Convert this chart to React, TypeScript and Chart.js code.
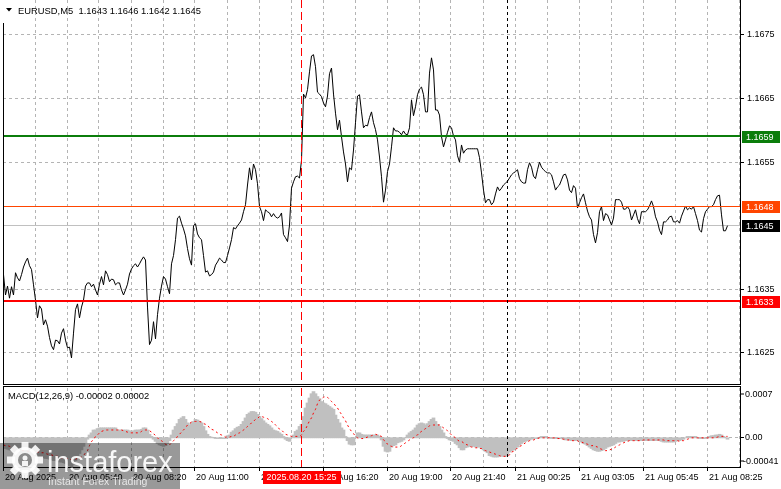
import React, { useEffect, useRef } from "react";
import { Chart, registerables } from "chart.js";

Chart.register(...registerables);

// ---------------- data ----------------
const titleText = "EURUSD,M5  1.1643 1.1646 1.1642 1.1645";
const macdTitleText = "MACD(12,26,9) -0.00002 0.00002";

const closes = [
  1.16373,1.16341,1.16355,1.16336,1.16354,1.16341,1.16376,1.16368,1.16363,1.16373,
  1.16385,1.16393,1.16399,1.16387,1.16381,1.16357,1.16333,1.16305,1.16324,1.16319,
  1.16294,1.16302,1.16292,1.16274,1.16261,1.16255,1.16270,1.16269,1.16264,1.16281,
  1.16288,1.16270,1.16258,1.16259,1.16242,1.16281,1.16318,1.16327,1.16305,1.16322,
  1.16333,1.16355,1.16360,1.16360,1.16354,1.16358,1.16349,1.16341,1.16358,1.16370,
  1.16357,1.16379,1.16373,1.16362,1.16366,1.16365,1.16357,1.16360,1.16360,1.16349,
  1.16341,1.16349,1.16358,1.16374,1.16382,1.16387,1.16390,1.16385,1.16390,1.16396,
  1.16401,1.16396,1.16322,1.16263,1.16270,1.16299,1.16272,1.16310,1.16336,1.16355,
  1.16370,1.16366,1.16354,1.16343,1.16390,1.16403,1.16428,1.16462,1.16465,1.16454,
  1.16445,1.16434,1.16414,1.16398,1.16388,1.16450,1.16453,1.16437,1.16431,1.16428,
  1.16403,1.16377,1.16379,1.16371,1.16373,1.16377,1.16388,1.16393,1.16399,1.16396,
  1.16392,1.16392,1.16403,1.16415,1.16428,1.16447,1.16445,1.16450,1.16454,1.16459,
  1.16472,1.16483,1.16514,1.16541,1.16522,1.16547,1.16538,1.16516,1.16480,1.16472,
  1.16458,1.16475,1.16472,1.16470,1.16464,1.16469,1.16464,1.16462,1.16464,1.16470,
  1.16436,1.16431,1.16425,1.16451,1.16509,1.16519,1.16527,1.16528,1.16525,1.16553,
  1.16657,1.16651,1.16664,1.16692,1.16717,1.16719,1.16700,1.16660,1.16657,1.16653,
  1.16643,1.16637,1.16654,1.16689,1.16698,1.16657,1.16627,1.16601,1.16616,1.16590,
  1.16566,1.16547,1.16519,1.16541,1.16538,1.16569,1.16612,1.16654,1.16656,1.16629,
  1.16604,1.16608,1.16607,1.16620,1.16629,1.16612,1.16601,1.16585,1.16558,1.16527,
  1.16487,1.16506,1.16535,1.16547,1.16574,1.16604,1.16599,1.16599,1.16597,1.16593,
  1.16599,1.16594,1.16593,1.16604,1.16648,1.16623,1.16637,1.16656,1.16665,1.16668,
  1.16656,1.16629,1.16629,1.16690,1.16714,1.16695,1.16632,1.16632,1.16624,1.16590,
  1.16574,1.16585,1.16597,1.16607,1.16604,1.16591,1.16585,1.16560,1.16550,1.16577,
  1.16564,1.16569,1.16571,1.16571,1.16571,1.16571,1.16571,1.16571,1.16557,1.16533,
  1.16506,1.16486,1.16491,1.16491,1.16483,1.16487,1.16500,1.16511,1.16505,1.16509,
  1.16514,1.16517,1.16520,1.16525,1.16530,1.16533,1.16535,1.16538,1.16524,1.16519,
  1.16517,1.16517,1.16538,1.16549,1.16542,1.16528,1.16524,1.16538,1.16550,1.16542,
  1.16538,1.16535,1.16533,1.16533,1.16530,1.16519,1.16506,1.16511,1.16514,1.16522,
  1.16530,1.16531,1.16522,1.16506,1.16502,1.16513,1.16509,1.16478,1.16486,1.16494,
  1.16500,1.16486,1.16473,1.16464,1.16459,1.16436,1.16423,1.16439,1.16472,1.16480,
  1.16458,1.16469,1.16467,1.16459,1.16451,1.16462,1.16491,1.16491,1.16491,1.16487,
  1.16476,1.16476,1.16480,1.16475,1.16459,1.16467,1.16475,1.16461,1.16453,1.16472,
  1.16472,1.16472,1.16475,1.16481,1.16489,1.16480,1.16464,1.16456,1.16443,1.16436,
  1.16456,1.16456,1.16459,1.16464,1.16465,1.16456,1.16456,1.16458,1.16454,1.16465,
  1.16473,1.16481,1.16475,1.16478,1.16476,1.16480,1.16469,1.16458,1.16443,1.16440,
  1.16461,1.16472,1.16476,1.16480,1.16480,1.16483,1.16491,1.16497,1.16498,1.16467,
  1.16442,1.16442,1.16450,
];

const macdHist = [
  -14e-5,-15e-5,-16e-5,-17e-5,-18e-5,-19e-5,-19e-5,-20e-5,-20e-5,-21e-5,
  -21e-5,-22e-5,-22e-5,-23e-5,-23e-5,-24e-5,-25e-5,-26e-5,-27e-5,-27e-5,
  -28e-5,-29e-5,-29e-5,-30e-5,-31e-5,-32e-5,-32e-5,-33e-5,-34e-5,-34e-5,
  -35e-5,-36e-5,-38e-5,-39e-5,-41e-5,-37e-5,-32e-5,-27e-5,-22e-5,-17e-5,
  -12e-5,-7e-5,-2e-5,4e-5,7e-5,11e-5,11e-5,13e-5,14e-5,14e-5,
  14e-5,14e-5,14e-5,14e-5,14e-5,14e-5,14e-5,11e-5,11e-5,11e-5,
  11e-5,11e-5,11e-5,10e-5,9e-5,10e-5,11e-5,11e-5,11e-5,12e-5,
  14e-5,14e-5,11e-5,5e-5,2e-5,-2e-5,-5e-5,-8e-5,-10e-5,-11e-5,
  -12e-5,-11e-5,-8e-5,-4e-5,4e-5,11e-5,16e-5,20e-5,26e-5,28e-5,
  30e-5,26e-5,21e-5,18e-5,21e-5,23e-5,26e-5,25e-5,23e-5,21e-5,
  16e-5,10e-5,5e-5,2e-5,1e-5,0,-1e-5,-1e-5,-1e-5,-1e-5,
  -1e-5,-1e-5,3e-5,4e-5,8e-5,10e-5,13e-5,15e-5,16e-5,19e-5,
  23e-5,28e-5,33e-5,35e-5,37e-5,37e-5,36e-5,33e-5,30e-5,27e-5,
  24e-5,21e-5,19e-5,17e-5,14e-5,11e-5,10e-5,9e-5,7e-5,5e-5,
  2e-5,-2e-5,-4e-5,-5e-5,0,4e-5,9e-5,11e-5,16e-5,19e-5,
  30e-5,42e-5,49e-5,56e-5,62e-5,65e-5,62e-5,58e-5,55e-5,51e-5,
  49e-5,48e-5,46e-5,44e-5,42e-5,40e-5,32e-5,26e-5,21e-5,14e-5,
  11e-5,2e-5,-4e-5,-9e-5,-10e-5,-10e-5,0,7e-5,7e-5,5e-5,
  4e-5,4e-5,4e-5,4e-5,4e-5,4e-5,4e-5,4e-5,2e-5,-3e-5,
  -12e-5,-19e-5,-20e-5,-19e-5,-13e-5,-11e-5,-10e-5,-7e-5,-6e-5,-5e-5,
  -3e-5,0,4e-5,7e-5,9e-5,11e-5,14e-5,18e-5,20e-5,21e-5,
  20e-5,18e-5,20e-5,23e-5,26e-5,28e-5,23e-5,19e-5,16e-5,11e-5,
  7e-5,2e-5,-1e-5,-3e-5,-4e-5,-5e-5,-8e-5,-10e-5,-14e-5,-17e-5,
  -17e-5,-14e-5,-13e-5,-12e-5,-12e-5,-12e-5,-13e-5,-13e-5,-13e-5,-15e-5,
  -17e-5,-19e-5,-21e-5,-25e-5,-26e-5,-27e-5,-27e-5,-27e-5,-26e-5,-26e-5,
  -26e-5,-26e-5,-24e-5,-20e-5,-18e-5,-17e-5,-15e-5,-13e-5,-10e-5,-8e-5,
  -6e-5,-5e-5,-4e-5,-3e-5,-2e-5,-1e-5,-1e-5,-1e-5,0,2e-5,
  2e-5,2e-5,0,0,-1e-5,-1e-5,-1e-5,-1e-5,-1e-5,-1e-5,
  -2e-5,-3e-5,-3e-5,-3e-5,-4e-5,-4e-5,-4e-5,-4e-5,-5e-5,-6e-5,
  -8e-5,-9e-5,-11e-5,-13e-5,-15e-5,-17e-5,-18e-5,-19e-5,-19e-5,-18e-5,
  -17e-5,-15e-5,-13e-5,-12e-5,-11e-5,-10e-5,-8e-5,-6e-5,-6e-5,-5e-5,
  -5e-5,-4e-5,-4e-5,-4e-5,-4e-5,-4e-5,-4e-5,-4e-5,-4e-5,-4e-5,
  -4e-5,-4e-5,-4e-5,-4e-5,-4e-5,-4e-5,-4e-5,-4e-5,-4e-5,-5e-5,
  -6e-5,-6e-5,-6e-5,-6e-5,-6e-5,-6e-5,-5e-5,-4e-5,-4e-5,-3e-5,
  -2e-5,0,2e-5,2e-5,2e-5,2e-5,2e-5,0,-1e-5,-1e-5,
  -1e-5,-1e-5,0,2e-5,3e-5,3e-5,4e-5,4e-5,5e-5,4e-5,
  2e-5,0,-2e-5,
];

const macdSignal = [
  -10e-5,-11e-5,-11e-5,-12e-5,-13e-5,-16e-5,-16e-5,-17e-5,-17e-5,-18e-5,
  -18e-5,-18e-5,-19e-5,-19e-5,-19e-5,-20e-5,-20e-5,-20e-5,-20e-5,-21e-5,
  -21e-5,-22e-5,-23e-5,-23e-5,-24e-5,-25e-5,-26e-5,-26e-5,-27e-5,-28e-5,
  -28e-5,-29e-5,-29e-5,-30e-5,-31e-5,-31e-5,-30e-5,-29e-5,-28e-5,-27e-5,
  -25e-5,-21e-5,-18e-5,-11e-5,-5e-5,-3e-5,2e-5,4e-5,7e-5,9e-5,
  10e-5,11e-5,11e-5,11e-5,11e-5,11e-5,11e-5,11e-5,11e-5,11e-5,
  10e-5,9e-5,8e-5,7e-5,7e-5,7e-5,7e-5,7e-5,7e-5,9e-5,
  11e-5,11e-5,11e-5,10e-5,8e-5,6e-5,3e-5,0,-3e-5,-4e-5,
  -7e-5,-9e-5,-10e-5,-10e-5,-7e-5,-4e-5,-2e-5,2e-5,5e-5,8e-5,
  11e-5,14e-5,18e-5,20e-5,22e-5,23e-5,23e-5,23e-5,23e-5,22e-5,
  20e-5,19e-5,18e-5,14e-5,12e-5,11e-5,9e-5,7e-5,5e-5,4e-5,
  3e-5,1e-5,1e-5,1e-5,2e-5,2e-5,4e-5,6e-5,7e-5,9e-5,
  11e-5,13e-5,16e-5,18e-5,21e-5,23e-5,26e-5,27e-5,30e-5,30e-5,
  29e-5,28e-5,27e-5,25e-5,23e-5,21e-5,18e-5,16e-5,12e-5,11e-5,
  8e-5,5e-5,4e-5,3e-5,2e-5,2e-5,2e-5,2e-5,2e-5,4e-5,
  9e-5,12e-5,18e-5,24e-5,28e-5,35e-5,40e-5,48e-5,53e-5,55e-5,
  57e-5,58e-5,57e-5,54e-5,51e-5,49e-5,45e-5,42e-5,37e-5,33e-5,
  28e-5,24e-5,18e-5,13e-5,9e-5,6e-5,2e-5,0,-1e-5,-1e-5,
  -1e-5,0,1e-5,2e-5,3e-5,4e-5,5e-5,4e-5,3e-5,2e-5,
  -3e-5,-5e-5,-9e-5,-11e-5,-12e-5,-13e-5,-13e-5,-13e-5,-13e-5,-11e-5,
  -9e-5,-7e-5,-5e-5,-3e-5,-1e-5,0,3e-5,4e-5,7e-5,9e-5,
  11e-5,13e-5,14e-5,17e-5,18e-5,18e-5,18e-5,18e-5,18e-5,16e-5,
  14e-5,12e-5,10e-5,7e-5,4e-5,2e-5,0,-3e-5,-5e-5,-5e-5,
  -7e-5,-9e-5,-10e-5,-12e-5,-13e-5,-13e-5,-14e-5,-14e-5,-15e-5,-15e-5,
  -17e-5,-18e-5,-19e-5,-20e-5,-21e-5,-22e-5,-23e-5,-24e-5,-25e-5,-26e-5,
  -26e-5,-26e-5,-26e-5,-24e-5,-20e-5,-19e-5,-17e-5,-14e-5,-12e-5,-11e-5,
  -9e-5,-7e-5,-6e-5,-4e-5,-4e-5,-3e-5,-2e-5,-1e-5,0,0,
  0,0,0,0,0,0,0,-1e-5,-1e-5,-1e-5,
  -2e-5,-2e-5,-3e-5,-3e-5,-4e-5,-4e-5,-4e-5,-4e-5,-6e-5,-6e-5,
  -7e-5,-8e-5,-9e-5,-10e-5,-11e-5,-11e-5,-12e-5,-13e-5,-15e-5,-16e-5,
  -17e-5,-18e-5,-18e-5,-17e-5,-16e-5,-15e-5,-13e-5,-11e-5,-10e-5,-8e-5,
  -7e-5,-6e-5,-5e-5,-4e-5,-4e-5,-4e-5,-4e-5,-4e-5,-4e-5,-4e-5,
  -3e-5,-3e-5,-3e-5,-3e-5,-3e-5,-3e-5,-3e-5,-3e-5,-3e-5,-3e-5,
  -3e-5,-4e-5,-4e-5,-4e-5,-4e-5,-4e-5,-4e-5,-4e-5,-5e-5,-4e-5,
  -4e-5,-3e-5,-2e-5,-1e-5,0,0,0,0,0,0,
  0,0,0,0,0,0,0,1e-5,2e-5,2e-5,
  2e-5,2e-5,2e-5,
];

const priceMin = 1.16201;
const priceMax = 1.16805;
const priceGrid = [1.1625, 1.1635, 1.1645, 1.1655, 1.1665, 1.1675];
const priceTickValues = [1.1625, 1.1635, 1.1655, 1.1665, 1.1675];
const priceTickLabels = ["1.1625", "1.1635", "1.1655", "1.1665", "1.1675"];
const levelValues = [1.1659, 1.1648, 1.1633];
const levelLabels = ["1.1659", "1.1648", "1.1633"];
const lastClose = 1.1645;
const lastCloseLabel = "1.1645";

const macdMin = -0.00041;
const macdMax = 0.0007;
const macdTickValues = [0.0007, 0, -0.00041];
const macdTickLabels = ["0.0007", "0.00", "-0.00041"];

const timeLabelBars = [0, 32, 64, 96, 128, 160, 192, 224, 256, 288, 320, 352];
const timeLabels = [
  "20 Aug 2025", "20 Aug 05:40", "20 Aug 08:20", "20 Aug 11:00", "20 Aug 13:40", "20 Aug 16:20",
  "20 Aug 19:00", "20 Aug 21:40", "21 Aug 00:25", "21 Aug 03:05", "21 Aug 05:45", "21 Aug 08:25",
];
const crosshairBar = 149;
const crosshairLabel = "2025.08.20 15:25";
const markerBar = 252;
const gridEveryBars = 16;
const barMin = -0.25;
const barMax = 368.25;

// ---------------- styles ----------------
const AXIS_FONT = '9px "Liberation Sans", Arial, sans-serif';
const TITLE_FONT = '9.4px "Liberation Sans", Arial, sans-serif';
const GRID_COLOR = "#b4b4b4";
const LEVEL_COLORS = ["#0b7d0b", "#ff4500", "#ff0000"];
const LEVEL_WIDTHS = [2, 1, 2];

function vline(ctx: any, x: number, y0: number, y1: number) {
  ctx.beginPath();
  ctx.moveTo(x, y0);
  ctx.lineTo(x, y1);
  ctx.stroke();
}
function hline(ctx: any, y: number, x0: number, x1: number) {
  ctx.beginPath();
  ctx.moveTo(x0, y);
  ctx.lineTo(x1, y);
  ctx.stroke();
}
const colX = (xs: any, b: number) => Math.round(xs.getPixelForValue(b)) - 0.5;

const mainPlugin = {
  id: "mtMain",
  beforeDatasetsDraw(chart: any) {
    const { ctx, chartArea: a } = chart;
    const xs = chart.scales.x;
    const ys = chart.scales.y;
    ctx.save();
    ctx.lineWidth = 1;
    ctx.strokeStyle = GRID_COLOR;
    ctx.setLineDash([3, 3]);
    for (let b = gridEveryBars; b < barMax; b += gridEveryBars) {
      vline(ctx, colX(xs, b), a.top, a.bottom);
    }
    priceGrid.forEach((p) => hline(ctx, Math.floor(ys.getPixelForValue(p)) + 0.5, a.left, a.right));
    ctx.setLineDash([]);
    ctx.strokeStyle = "#c0c0c0";
    hline(ctx, Math.floor(ys.getPixelForValue(lastClose)) + 0.5, a.left, a.right);
    ctx.restore();
  },
  afterDatasetsDraw(chart: any) {
    const { ctx, chartArea: a } = chart;
    const xs = chart.scales.x;
    const ys = chart.scales.y;
    ctx.save();
    levelValues.forEach((v, k) => {
      ctx.strokeStyle = LEVEL_COLORS[k];
      ctx.lineWidth = LEVEL_WIDTHS[k];
      const raw = ys.getPixelForValue(v);
      const py = LEVEL_WIDTHS[k] === 2 ? Math.round(raw) - 1 : Math.floor(raw) + 0.5;
      hline(ctx, py, a.left, a.right);
    });
    ctx.lineWidth = 1;
    ctx.strokeStyle = "#ff0000";
    ctx.setLineDash([8, 4]);
    vline(ctx, colX(xs, crosshairBar), a.top, a.bottom);
    ctx.strokeStyle = "#000";
    ctx.setLineDash([3, 3]);
    vline(ctx, colX(xs, markerBar), a.top, a.bottom);
    ctx.setLineDash([]);
    ctx.strokeStyle = "#000";
    vline(ctx, a.left + 0.5, 23, a.bottom + 1);
    vline(ctx, a.right + 0.5, 0, a.bottom + 1);
    hline(ctx, a.bottom + 0.5, a.left, a.right + 1);

    ctx.font = AXIS_FONT;
    ctx.textBaseline = "middle";
    ctx.textAlign = "left";
    ctx.fillStyle = "#000";
    priceTickValues.forEach((v, k) => {
      const py = Math.floor(ys.getPixelForValue(v)) + 0.5;
      hline(ctx, py, a.right + 1, a.right + 4);
      ctx.fillText(priceTickLabels[k], a.right + 7, py + 0.5);
    });
    const box = (v: number, label: string, bg: string) => {
      const py = Math.round(ys.getPixelForValue(v));
      ctx.fillStyle = bg;
      ctx.fillRect(a.right + 2, py - 6, 38, 12);
      ctx.fillStyle = "#fff";
      ctx.fillText(label, a.right + 6, py + 0.5);
    };
    levelValues.forEach((v, k) => box(v, levelLabels[k], LEVEL_COLORS[k]));
    box(lastClose, lastCloseLabel, "#000");

    ctx.fillStyle = "#000";
    ctx.beginPath();
    ctx.moveTo(6, 8);
    ctx.lineTo(12, 8);
    ctx.lineTo(9, 11.5);
    ctx.closePath();
    ctx.fill();
    ctx.font = TITLE_FONT;
    ctx.fillText(titleText, 18, 11);
    ctx.restore();
  },
};

function drawGear(ctx: any, cx: number, cy: number) {
  ctx.save();
  ctx.fillStyle = "rgba(255,255,255,0.9)";
  for (let k = 0; k < 8; k++) {
    ctx.save();
    ctx.translate(cx, cy);
    ctx.rotate((k * Math.PI) / 4);
    ctx.fillRect(-3.5, -18, 7, 8);
    ctx.restore();
  }
  ctx.beginPath();
  ctx.arc(cx, cy, 13, 0, Math.PI * 2);
  ctx.fill();
  ctx.fillStyle = "#8a8a8a";
  ctx.beginPath();
  ctx.arc(cx, cy, 7, 0, Math.PI * 2);
  ctx.fill();
  ctx.fillStyle = "rgba(255,255,255,0.9)";
  ctx.beginPath();
  ctx.arc(cx, cy - 2, 2.5, 0, Math.PI * 2);
  ctx.fill();
  ctx.fillRect(cx - 3, cy + 1, 6, 5);
  ctx.restore();
}

const macdPlugin = {
  id: "mtMacd",
  beforeDatasetsDraw(chart: any) {
    const { ctx, chartArea: a } = chart;
    const xs = chart.scales.x;
    const ys = chart.scales.y;
    ctx.save();
    ctx.lineWidth = 1;
    ctx.strokeStyle = GRID_COLOR;
    ctx.setLineDash([3, 3]);
    for (let b = gridEveryBars; b < barMax; b += gridEveryBars) {
      vline(ctx, colX(xs, b), a.top, a.bottom);
    }
    hline(ctx, Math.floor(ys.getPixelForValue(0)) + 0.5, a.left, a.right);
    ctx.restore();
  },
  afterDatasetsDraw(chart: any) {
    const { ctx, chartArea: a } = chart;
    const xs = chart.scales.x;
    const ys = chart.scales.y;
    ctx.save();
    ctx.lineWidth = 1;
    ctx.strokeStyle = "#ff0000";
    ctx.setLineDash([8, 4]);
    vline(ctx, colX(xs, crosshairBar), a.top, a.bottom);
    ctx.strokeStyle = "#000";
    ctx.setLineDash([3, 3]);
    vline(ctx, colX(xs, markerBar), a.top, a.bottom);
    ctx.setLineDash([]);
    ctx.strokeStyle = "#000";
    hline(ctx, 0.5, a.left, a.right + 1);
    vline(ctx, a.left + 0.5, 0, a.bottom + 1);
    vline(ctx, a.right + 0.5, 0, a.bottom + 1);
    hline(ctx, a.bottom + 0.5, a.left, a.right + 1);

    ctx.font = AXIS_FONT;
    ctx.textBaseline = "middle";
    ctx.textAlign = "left";
    ctx.fillStyle = "#000";
    macdTickValues.forEach((v, k) => {
      let py = Math.floor(ys.getPixelForValue(v)) + 0.5;
      if (py < a.top + 6) py = a.top + 6;
      if (py > a.bottom - 6) py = a.bottom - 6;
      hline(ctx, py, a.right + 1, a.right + 4);
      ctx.fillText(macdTickLabels[k], a.right + (macdTickLabels[k][0] === "-" ? 3 : 5), py + 0.5);
    });

    ctx.font = TITLE_FONT;
    ctx.fillText(macdTitleText, 8, 10);

    ctx.font = AXIS_FONT;
    timeLabelBars.forEach((b, k) => {
      const px = colX(xs, b);
      vline(ctx, px, a.bottom + 1, a.bottom + 4);
      ctx.fillText(timeLabels[k], px + 1.5, a.bottom + 11);
    });

    const cx = colX(xs, crosshairBar);
    ctx.fillStyle = "#ff0000";
    ctx.fillRect(Math.round(cx - 39), a.bottom + 4, 78, 13);
    ctx.fillStyle = "#fff";
    ctx.textAlign = "center";
    ctx.fillText(crosshairLabel, cx, a.bottom + 11);
    ctx.textAlign = "left";
    ctx.restore();
  },
  afterDraw(chart: any) {
    const { ctx } = chart;
    ctx.save();
    ctx.fillStyle = "rgba(0,0,0,0.4)";
    ctx.fillRect(0, 57, 180, 46);
    drawGear(ctx, 25, 74);
    ctx.fillStyle = "rgba(255,255,255,0.92)";
    ctx.textBaseline = "alphabetic";
    ctx.font = '29px "Liberation Sans", Arial, sans-serif';
    ctx.fillText("instaforex", 47, 86);
    ctx.fillStyle = "rgba(255,255,255,0.75)";
    ctx.font = '10.5px "Liberation Sans", Arial, sans-serif';
    ctx.fillText("Instant Forex Trading", 48, 99);
    ctx.restore();
  },
};

export default function App() {
  const mainRef = useRef<HTMLCanvasElement>(null);
  const macdRef = useRef<HTMLCanvasElement>(null);

  useEffect(() => {
    const priceChart = new Chart(mainRef.current as HTMLCanvasElement, {
      type: "line",
      data: {
        datasets: [
          {
            data: closes.map((v, i) => ({ x: i, y: v })),
            borderColor: "#000000",
            borderWidth: 1,
            pointRadius: 0,
            tension: 0,
            fill: false,
          },
        ],
      },
      options: {
        animation: false,
        responsive: false,
        devicePixelRatio: 1,
        events: [],
        layout: { padding: { left: 3, right: 41, top: 0, bottom: 2 } },
        plugins: { legend: { display: false }, tooltip: { enabled: false } },
        scales: {
          x: { type: "linear", display: false, min: barMin, max: barMax, offset: false },
          y: { type: "linear", display: false, min: priceMin, max: priceMax },
        },
      },
      plugins: [mainPlugin],
    } as any);

    const macdChart = new Chart(macdRef.current as HTMLCanvasElement, {
      type: "bar",
      data: {
        datasets: [
          {
            type: "line",
            data: macdSignal.map((v, i) => ({ x: i, y: v })),
            borderColor: "#ff0000",
            borderWidth: 1,
            borderDash: [2, 3],
            pointRadius: 0,
            tension: 0,
            fill: false,
            order: 1,
          },
          {
            type: "bar",
            data: macdHist.map((v, i) => ({ x: i, y: v })),
            backgroundColor: "#c0c0c0",
            borderWidth: 0,
            barThickness: 3,
            grouped: false,
            order: 2,
          },
        ],
      },
      options: {
        animation: false,
        responsive: false,
        devicePixelRatio: 1,
        events: [],
        layout: { padding: { left: 3, right: 41, top: 2, bottom: 22 } },
        plugins: { legend: { display: false }, tooltip: { enabled: false } },
        scales: {
          x: { type: "linear", display: false, min: barMin, max: barMax, offset: false },
          y: { type: "linear", display: false, min: macdMin, max: macdMax },
        },
      },
      plugins: [macdPlugin],
    } as any);

    return () => {
      priceChart.destroy();
      macdChart.destroy();
    };
  }, []);

  return (
    <div
      style={{
        position: "fixed",
        left: 0,
        top: 0,
        width: 781,
        height: 489,
        background: "#ffffff",
        overflow: "hidden",
      }}
    >
      <canvas
        ref={mainRef}
        width={781}
        height={386}
        style={{ position: "absolute", left: 0, top: 0, width: 781, height: 386 }}
      />
      <canvas
        ref={macdRef}
        width={781}
        height={103}
        style={{ position: "absolute", left: 0, top: 386, width: 781, height: 103 }}
      />
    </div>
  );
}
